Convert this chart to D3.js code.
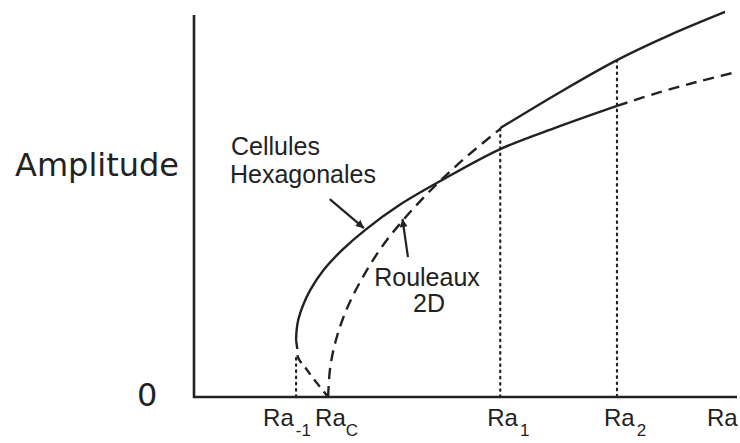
<!DOCTYPE html>
<html lang='en'>

<head>
    <meta charset='UTF-8'>
    <title>Amplitude vs Ra</title>
    <script src="https://cdn.jsdelivr.net/npm/d3@7"></script>
    <style>
        body { margin: 0; background: #fff; }
        text { fill: #222; }
    </style>
</head>

<body>
    <svg class="chart"></svg>
</body>
<script>
    /**
     * données (unités arbitraires : Ra en abscisse, amplitude en ordonnée)
     */
    // cellules hexagonales, branche stable (trait plein)
    const hexStable = [
        [1.88, 1.49], [1.89, 1.75], [1.92, 2.02], [2.01, 2.41], [2.14, 2.80],
        [2.39, 3.33], [2.73, 3.85], [3.15, 4.37], [3.79, 5.03], [4.57, 5.68],
        [5.64, 6.49], [6.70, 7.07], [7.79, 7.62]
    ];
    // cellules hexagonales au-delà de Ra2 (tirets)
    const hexUnstableHigh = [[7.79, 7.62], [8.58, 7.98], [9.32, 8.27], [10.0, 8.51]];
    // cellules hexagonales, branche sous-critique (tirets)
    const hexUnstableLow = [[1.88, 1.49], [1.90, 1.28], [1.92, 1.02], [2.04, 0.79], [2.19, 0.50], [2.47, 0.0]];
    // rouleaux 2D instables (tirets) puis stables (trait plein)
    const rollsUnstable = [
        [2.47, 0.0], [2.51, 0.79], [2.63, 1.57], [2.83, 2.36], [3.11, 3.14],
        [3.46, 3.93], [3.90, 4.71], [4.42, 5.50], [5.01, 6.28], [5.64, 7.02]
    ];
    const rollsStable = [[5.64, 7.04], [6.74, 7.98], [7.79, 8.82], [8.77, 9.48], [9.78, 10.08]];

    // seuils sur l'axe Ra
    const thresholds = ["-1", "C", "1", "2"];
    const thresholdValues = [1.88, 2.47, 5.64, 7.79];
    const thresholdTops = [1.02, 0.0, 7.02, 8.82]; // haut des pointillés

    // flèches d'annotation [départ, pointe]
    const hexArrow = [[2.50, 5.18], [3.13, 4.42]];
    const rollsArrow = [[3.94, 3.66], [3.84, 4.66]];

    /**
     * configuration
     */
    const svgWidth = 740;
    const svgHeight = 443;
    const ink = "#222";

    const svg = d3.select(".chart")
        .attr("width", svgWidth)
        .attr("height", svgHeight);

    const x = d3.scaleLinear().domain([0, 10]).range([194, 737]);
    const y = d3.scaleLinear().domain([0, 10]).range([397, 15]);

    const line = d3.line()
        .x(d => x(d[0]))
        .y(d => y(d[1]))
        .curve(d3.curveCatmullRom.alpha(0.5));

    svg.append("defs").append("marker")
        .attr("id", "head")
        .attr("viewBox", "0 0 10 10")
        .attr("refX", 10).attr("refY", 5)
        .attr("markerWidth", 11).attr("markerHeight", 8)
        .attr("markerUnits", "userSpaceOnUse")
        .attr("orient", "auto")
        .append("path")
        .attr("d", "M0,0 L10,5 L0,10 Z")
        .attr("fill", ink);

    /**
     * axes
     */
    const axes = svg.append("g").attr("stroke", ink).attr("stroke-width", 2.6);
    axes.append("line")
        .attr("x1", x(0)).attr("x2", x(0))
        .attr("y1", y(10)).attr("y2", y(0) + 1);
    axes.append("line")
        .attr("x1", x(0) - 1).attr("x2", x(10))
        .attr("y1", y(0)).attr("y2", y(0));

    // pointillés verticaux aux seuils
    svg.append("g").selectAll("line")
        .data(thresholdValues.map((v, i) => [v, thresholdTops[i]]).filter(d => d[1] > 0))
        .join("line")
        .attr("x1", d => x(d[0])).attr("x2", d => x(d[0]))
        .attr("y1", d => y(d[1])).attr("y2", y(0))
        .attr("stroke", ink)
        .attr("stroke-width", 2.2)
        .attr("stroke-dasharray", "1.6 4.6")
        .attr("stroke-linecap", "round");

    /**
     * courbes
     */
    const curves = [
        { data: hexStable, dash: null },
        { data: hexUnstableHigh, dash: "11 7" },
        { data: hexUnstableLow, dash: "9 6" },
        { data: rollsUnstable, dash: "11 7" },
        { data: rollsStable, dash: null }
    ];
    svg.append("g").selectAll("path")
        .data(curves)
        .join("path")
        .attr("d", d => line(d.data))
        .attr("fill", "none")
        .attr("stroke", ink)
        .attr("stroke-width", 2.4)
        .attr("stroke-dasharray", d => d.dash);

    svg.append("g").selectAll("line")
        .data([hexArrow, rollsArrow])
        .join("line")
        .attr("x1", d => x(d[0][0])).attr("y1", d => y(d[0][1]))
        .attr("x2", d => x(d[1][0])).attr("y2", d => y(d[1][1]))
        .attr("stroke", ink)
        .attr("stroke-width", 2.2)
        .attr("marker-end", "url(#head)");

    /**
     * textes
     */
    const sans = "'Liberation Sans', Arial, sans-serif";
    svg.append("text")
        .attr("x", 15).attr("y", 176)
        .attr("font-family", "'DejaVu Sans', sans-serif")
        .attr("font-size", 32)
        .text("Amplitude");
    svg.append("text")
        .attr("x", 137).attr("y", 406)
        .attr("font-family", "'DejaVu Sans', sans-serif")
        .attr("font-size", 32)
        .text("0");

    const note = svg.append("g").attr("font-family", sans).attr("font-size", 25);
    note.append("text").attr("x", 231).attr("y", 155).text("Cellules");
    note.append("text").attr("x", 230).attr("y", 183).text("Hexagonales");
    note.append("text").attr("x", 427).attr("y", 286).attr("text-anchor", "middle").text("Rouleaux");
    note.append("text").attr("x", 429).attr("y", 312).attr("text-anchor", "middle").text("2D");

    // étiquettes Ra avec indices
    const raLabels = svg.append("g").attr("font-family", sans).attr("font-size", 24);
    thresholds.forEach((sub, i) => {
        const t = raLabels.append("text")
            .attr("y", 426)
            .attr("x", i === 0 ? x(thresholdValues[i]) - 33 : x(thresholdValues[i]) - 13);
        t.append("tspan").text("Ra");
        t.append("tspan")
            .attr("font-size", 17)
            .attr("dx", sub === "C" ? 0 : 2)
            .attr("dy", 10)
            .text(sub);
    });
    raLabels.append("text")
        .attr("x", 707).attr("y", 426)
        .text("Ra");

</script>

</html>
